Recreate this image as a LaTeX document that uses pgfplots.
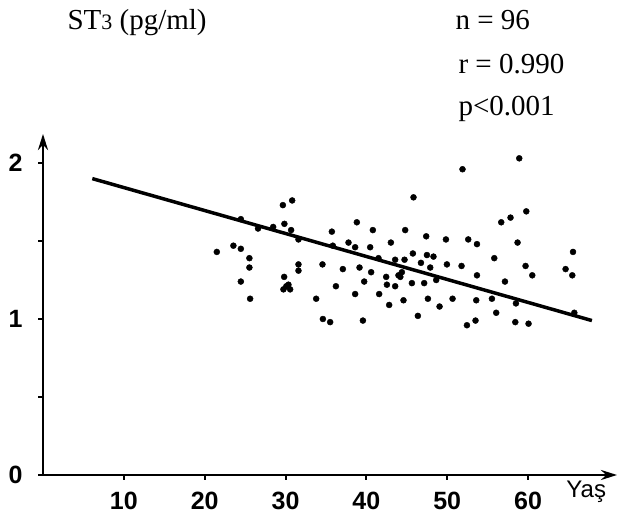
\documentclass[border=0pt]{standalone}
\usepackage{pgfplots}
\pgfplotsset{compat=1.18}
\usetikzlibrary{arrows.meta}
\usepackage{fontspec}
\setmainfont{Liberation Serif}
\newfontfamily\tickfont{Liberation Sans}
\pgfplotstableread{
x y
21.5 1.43
23.55 1.47
24.47 1.45
25.53 1.39
25.53 1.33
24.47 1.24
25.62 1.13
24.47 1.64
26.6 1.58
28.47 1.59
29.67 1.73
30.82 1.76
29.86 1.61
30.69 1.57
31.6 1.51
31.6 1.35
31.6 1.31
29.83 1.27
29.74 1.19
30.36 1.22
30.57 1.19
30.1 1.21
33.79 1.13
34.57 1.35
34.62 1.00
35.52 0.98
35.73 1.56
35.85 1.47
36.23 1.21
37.09 1.32
37.79 1.49
38.61 1.46
38.82 1.62
39.15 1.33
39.57 0.99
39.73 1.24
40.47 1.46
40.59 1.30
40.8 1.57
41.5 1.39
41.58 1.16
42.45 1.27
42.54 1.22
42.82 1.09
43.03 1.49
43.56 1.38
43.56 1.21
43.97 1.28
44.59 1.12
44.8 1.57
44.72 1.38
38.61 1.16
58.91 2.03
51.89 1.96
45.83 1.78
59.78 1.69
56.68 1.62
57.83 1.65
47.4 1.53
49.84 1.51
52.6 1.51
53.68 1.48
58.7 1.49
65.56 1.43
45.75 1.42
46.75 1.36
47.49 1.41
48.3 1.40
47.9 1.33
49.96 1.35
51.77 1.34
55.82 1.39
59.69 1.34
60.52 1.28
64.64 1.32
65.47 1.28
45.63 1.23
47.15 1.23
48.64 1.25
53.68 1.28
57.14 1.24
47.61 1.13
49.05 1.08
50.66 1.13
53.59 1.12
55.53 1.13
58.5 1.10
56.06 1.04
46.37 1.02
52.44 0.96
53.5 0.99
58.42 0.98
60.06 0.97
65.72 1.04
44.39 1.30
44.2 1.27
}\pts
\begin{document}
\begin{tikzpicture}[x=1pt,y=1pt]
\useasboundingbox (0,0) rectangle (621,521);
\begin{axis}[
  at={(43pt,46pt)}, anchor=south west,
  scale only axis, width=574pt, height=341pt,
  xmin=0, xmax=71, ymin=0, ymax=2.186,
  axis lines=left,
  axis line style={line width=2.5pt, -{Stealth[length=16pt,width=10pt]}},
  xtick={10,20,30,40,50,60},
  ytick={0,0.5,1,1.5,2},
  yticklabels={0,,1,,2},
  tick style={line width=2pt, black},
  major tick length=5pt,
  tick align=outside,
  /pgf/number format/assume math mode=true,
  ticklabel style={font=\tickfont\bfseries\fontsize{25}{25}\selectfont},
  xticklabel style={yshift=-9pt},
  yticklabel style={xshift=-12pt},
  clip=false,
]
\addplot[no marks, line width=3.5pt, black] coordinates {(6.1,1.90) (67.9,0.99)};
\addplot[only marks, mark=*, mark size=3pt, black] table[x=x,y=y] {\pts};
\node[font=\tickfont\fontsize{24}{24}\selectfont, anchor=center] at (axis cs:67.2,-0.11) {Yaş};
\end{axis}
\node[anchor=base west, font=\fontsize{29}{32}\selectfont] at (64,491) {ST{\fontsize{22}{24}\selectfont 3} (pg/ml)};
\node[anchor=base west, font=\fontsize{29}{32}\selectfont] at (452,491) {n = 96};
\node[anchor=base west, font=\fontsize{29}{32}\selectfont] at (455,447) {r = 0.990};
\node[anchor=base west, font=\fontsize{29}{32}\selectfont] at (455,405) {p<0.001};
\end{tikzpicture}
\end{document}
